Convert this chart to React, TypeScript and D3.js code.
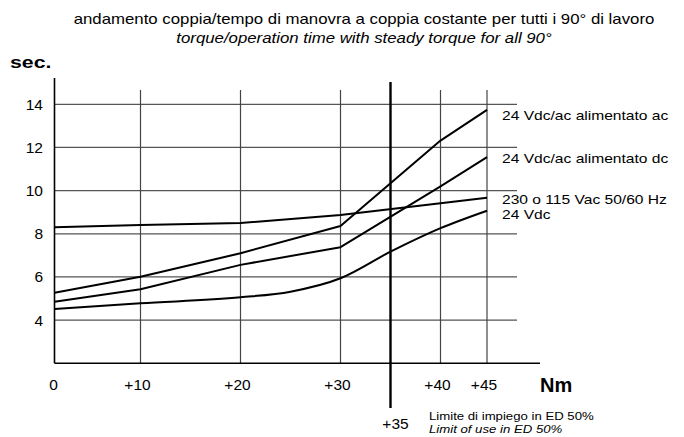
import * as d3 from "d3";

// torque (Nm) where the curves were read
const torque = [0, 10, 20, 30, 40, 45];
const acSupply = [5.27, 6.01, 7.1, 8.36, 12.32, 13.74];
const dcSupply = [4.85, 5.43, 6.56, 7.38, 10.2, 11.55];
const vac230 = [8.3, 8.41, 8.5, 8.87, 9.41, 9.67];
// 24 Vdc curve bends between the grid lines, so it has a few more readings
const vdcTorque = [0, 10, 20, 25, 30, 35, 40, 45];
const vdc24 = [4.52, 4.78, 5.06, 5.32, 5.94, 7.17, 8.26, 9.07];

const seriesNames = [
  "24 Vdc/ac alimentato ac",
  "24 Vdc/ac alimentato dc",
  "230 o 115 Vac 50/60 Hz",
  "24 Vdc",
];

const xTicks = [0, 10, 20, 30, 40, 45];
const xTickLabels = ["0", "+10", "+20", "+30", "+40", "+45"];
const yTicks = [4, 6, 8, 10, 12, 14];
const limitTorque = 35;

const W = 684;
const H = 437;
const font = "'Liberation Sans', Arial, Helvetica, sans-serif";

// the scanned lettering is a bit wider than Arial, so stretch it sideways
type STextProps = {
  x: number;
  y: number;
  sx?: number;
  children: any;
  [k: string]: any;
};
function SText({ x, y, sx = 1.2, children, ...rest }: STextProps) {
  return (
    <text transform={`translate(${x},${y}) scale(${sx},1)`} {...rest}>
      {children}
    </text>
  );
}

export default function App() {
  // the drawing squeezes the 0-10 step, so the scale is piecewise
  const x = d3.scaleLinear().domain([0, 10, 40, 45]).range([54.5, 140.5, 440.5, 487]);
  const y = d3.scaleLinear().domain([2, 14]).range([363.3, 104.3]);

  const line = d3
    .line<[number, number]>()
    .x((d) => x(d[0]))
    .y((d) => y(d[1]));
  const smooth = d3
    .line<[number, number]>()
    .x((d) => x(d[0]))
    .y((d) => y(d[1]))
    .curve(d3.curveMonotoneX);

  const series = [
    { name: seriesNames[0], pts: torque.map((t, i) => [t, acSupply[i]] as [number, number]), dy: 6, gen: line },
    { name: seriesNames[1], pts: torque.map((t, i) => [t, dcSupply[i]] as [number, number]), dy: 1, gen: line },
    { name: seriesNames[2], pts: torque.map((t, i) => [t, vac230[i]] as [number, number]), dy: 1.5, gen: line },
    { name: seriesNames[3], pts: vdcTorque.map((t, i) => [t, vdc24[i]] as [number, number]), dy: 3.5, gen: smooth },
  ];

  const gridRight = 517;
  const axisRight = 540;
  const base = y(2);

  return (
    <svg
      width={W}
      height={H}
      style={{ position: "absolute", left: 0, top: 0, background: "#fff" }}
      fontFamily={font}
    >
      <SText x={364} y={24} textAnchor="middle" fontSize={14}>
        andamento coppia/tempo di manovra a coppia costante per tutti i 90° di lavoro
      </SText>
      <SText x={364} y={43} textAnchor="middle" fontSize={14} fontStyle="italic">
        torque/operation time with steady torque for all 90°
      </SText>
      <SText x={10} y={68} sx={1.25} fontSize={17} fontWeight="bold">
        sec.
      </SText>

      {/* grid */}
      {yTicks.map((v) => (
        <line key={"h" + v} x1={x(0)} x2={gridRight} y1={y(v)} y2={y(v)} stroke="#555" strokeWidth={1.2} />
      ))}
      {xTicks.slice(1).map((v) => (
        <line key={"v" + v} x1={x(v)} x2={x(v)} y1={90} y2={base} stroke="#444" strokeWidth={1.2} />
      ))}

      {/* axes */}
      <line x1={x(0)} x2={x(0)} y1={78} y2={base} stroke="#000" strokeWidth={1.6} />
      <line x1={x(0)} x2={axisRight} y1={base} y2={base} stroke="#000" strokeWidth={1.6} />
      <line x1={x(limitTorque)} x2={x(limitTorque)} y1={82} y2={408} stroke="#000" strokeWidth={2.4} />

      {yTicks.map((v) => (
        <text key={"yl" + v} x={43} y={y(v)} dy="0.35em" textAnchor="end" fontSize={15.5}>
          {v}
        </text>
      ))}
      {xTicks.map((v, i) => (
        <text key={"xl" + v} x={x(v) - (i === 0 ? 1 : 3)} y={390} textAnchor="middle" fontSize={15.5}>
          {xTickLabels[i]}
        </text>
      ))}
      <text x={x(limitTorque) + 5} y={429} textAnchor="middle" fontSize={15.5}>
        +{limitTorque}
      </text>
      <text x={540} y={392} fontSize={20} fontWeight="bold">
        Nm
      </text>
      <SText x={429} y={420} fontSize={11}>
        Limite di impiego in ED 50%
      </SText>
      <SText x={429} y={433} fontSize={11} fontStyle="italic">
        Limit of use in ED 50%
      </SText>

      {/* curves */}
      {series.map((s) => (
        <g key={s.name}>
          <path d={s.gen(s.pts) ?? ""} fill="none" stroke="#000" strokeWidth={2} strokeLinejoin="round" />
          <SText x={502} y={y(s.pts[s.pts.length - 1][1]) + s.dy} dy="0.35em" fontSize={13}>
            {s.name}
          </SText>
        </g>
      ))}
    </svg>
  );
}
